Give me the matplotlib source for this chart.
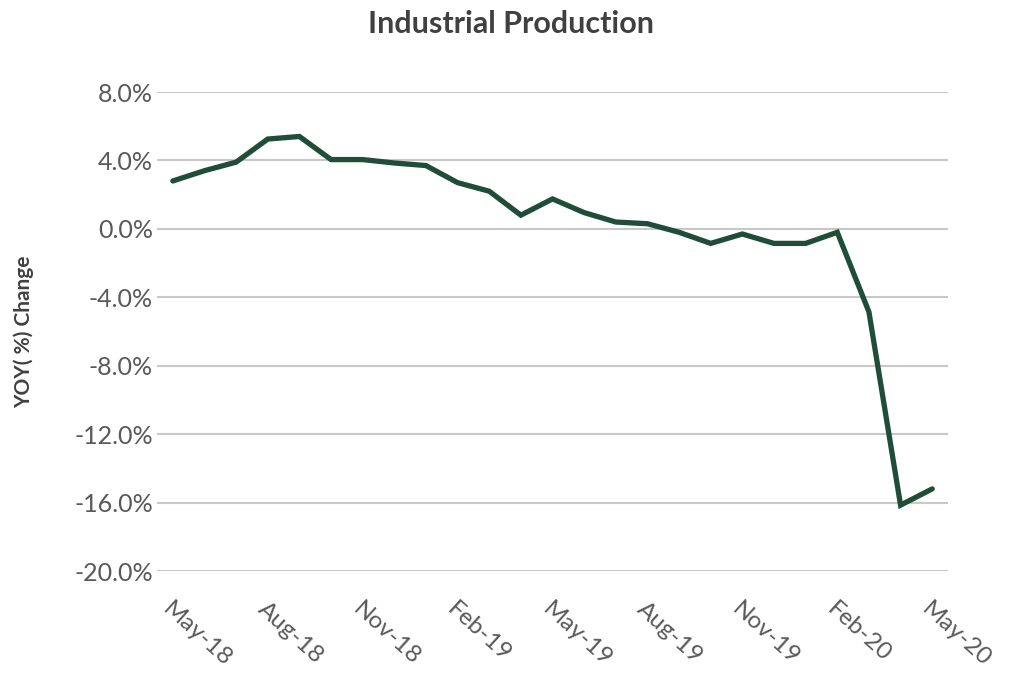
import matplotlib
matplotlib.use("Agg")
import matplotlib.pyplot as plt

months = ["May-18","Jun-18","Jul-18","Aug-18","Sep-18","Oct-18","Nov-18","Dec-18",
          "Jan-19","Feb-19","Mar-19","Apr-19","May-19","Jun-19","Jul-19","Aug-19",
          "Sep-19","Oct-19","Nov-19","Dec-19","Jan-20","Feb-20","Mar-20","Apr-20","May-20"]
yoy = [2.8, 3.4, 3.9, 5.25, 5.4, 4.05, 4.05, 3.85, 3.7, 2.7, 2.2, 0.8, 1.75, 0.95,
       0.4, 0.3, -0.2, -0.85, -0.3, -0.85, -0.85, -0.2, -4.85, -16.15, -15.2]
yticks = [8, 4, 0, -4, -8, -12, -16, -20]

plt.rcParams['font.family'] = ['Lato', 'DejaVu Sans']

fig = plt.figure(figsize=(10.23, 6.74), dpi=100)
ax = fig.add_axes([0.1535, 0.1528, 0.9267 - 0.1535, 0.8635 - 0.1528])

x = list(range(len(months)))
ax.plot(x, yoy, color='#1f4d38', lw=3.8, solid_capstyle='round', solid_joinstyle='miter', zorder=3)

ax.set_xlim(-0.5, len(months) - 0.5)
ax.set_ylim(-20, 8)
ax.set_yticks(yticks)
ax.set_yticklabels([f"{v:.1f}%" for v in yticks], fontsize=18, color='#595959')
ax.yaxis.grid(True, color='#c8c8c8', lw=1.5)
ax.set_axisbelow(True)
for s in ax.spines.values():
    s.set_visible(False)
ax.tick_params(axis='both', length=0)
ax.tick_params(axis='y', pad=3)

tick_idx = list(range(0, len(months), 3))
ax.set_xticks(tick_idx)
ax.set_xticklabels([months[i] for i in tick_idx], rotation=-42, ha='left', va='top',
                   rotation_mode='anchor', fontsize=17.5, color='#595959')
ax.tick_params(axis='x', pad=20)

ax.set_ylabel("YOY( %) Change", fontsize=15, fontweight='bold', color='#404040', labelpad=4)
ax.yaxis.set_label_coords(-0.155, 0.5)
fig.text(0.5, 0.965, "Industrial Production", ha='center', va='center',
         fontsize=22, fontweight='bold', color='#404040')

fig.savefig("out.png", dpi=100)
